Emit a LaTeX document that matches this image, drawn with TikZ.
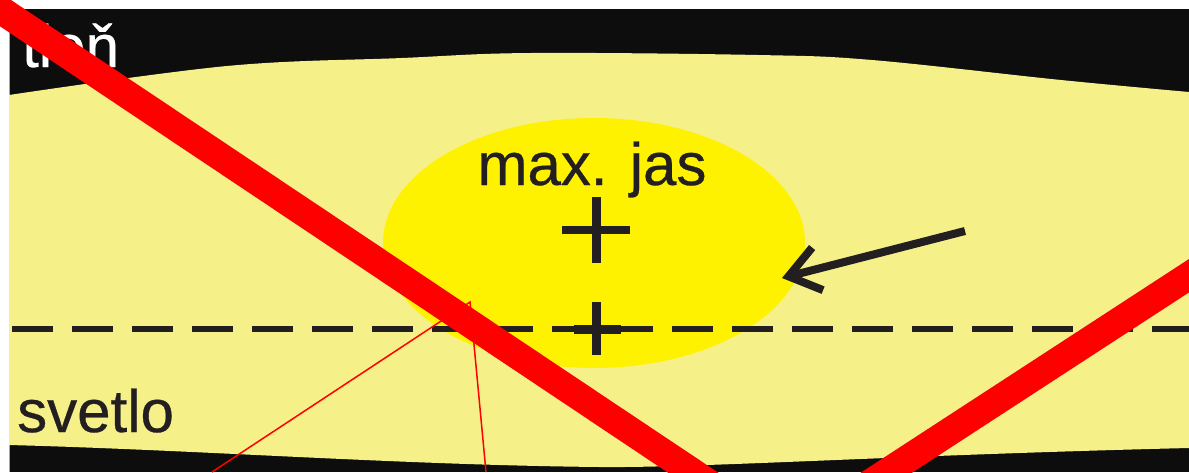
\documentclass[tikz,border=0pt]{standalone}
\usepackage{fontspec}
\setmainfont{Liberation Sans}
\newfontfamily\lblfont[FakeBold=0.5]{Liberation Sans}
\usetikzlibrary{arrows.meta}
\definecolor{paleyel}{RGB}{245,240,135}
\definecolor{brightyel}{RGB}{255,242,0}
\definecolor{nearblack}{RGB}{13,13,13}
\definecolor{inkdark}{RGB}{35,31,32}
\definecolor{crossred}{RGB}{255,0,0}
\tikzset{
  lbl/.style={inner sep=0pt, text=inkdark, font=\lblfont},
  plusbar/.style={draw=inkdark, line width=9pt},
  bigcross/.style={draw=crossred, line width=28pt},
  thinred/.style={draw=crossred, line width=1.5pt},
}
\begin{document}
\begin{tikzpicture}[x=1pt,y=-1pt]
\useasboundingbox (0,0) rectangle (1189,472);
\fill[white] (0,0) rectangle (1189,472);
\begin{scope}
\clip (0,0) rectangle (1189,472);
% black frame
\fill[nearblack] (9,9) rectangle (1189,472);
\draw[gray!70, line width=1pt] (9,9) -- (9,472);
% pale yellow light region
\fill[paleyel] plot[smooth, tension=0.6] coordinates {(9,95) (227,66) (402,58) (531,53) (758,55) (872,60) (1061,80) (1189,92)}
  -- (1189,448) .. controls (900,455) and (700,468) .. (600,467) .. controls (400,465) and (200,450) .. (9,445) -- cycle;
% max brightness ellipse
\fill[brightyel] (594,243) ellipse [x radius=211, y radius=125];
% dashed line
\coordinate (dashL) at (12,329);
\coordinate (dashR) at (1189,329);
\draw[inkdark, line width=5.5pt, dash pattern=on 41pt off 19pt] (dashL) -- (dashR);
% plus signs
\coordinate (p1) at (596,230);
\coordinate (p2) at (596,329);
\draw[plusbar] ([yshift=-33]p1) -- ([yshift=33]p1);
\draw[plusbar, line width=8pt] ([xshift=-34]p1) -- ([xshift=34]p1);
\draw[plusbar] ([yshift=-26]p2) -- ([yshift=27]p2);
\draw[plusbar] ([xshift=-22]p2) -- ([xshift=25]p2);
% labels
\node[lbl, anchor=base] (maxjas) at (592,185) {\fontsize{60}{60}\selectfont max. jas};
\node[lbl, anchor=base west] (svetlo) at (17,432) {\fontsize{60}{60}\selectfont svetlo};
\node[lbl, anchor=base west, text=white] (tien) at (22,67) {\fontsize{60}{60}\selectfont tieň};
% arrow
\coordinate (arrTail) at (965,231);
\coordinate (arrTip) at (782,278);
\draw[inkdark, line width=8pt, -{Straight Barb[length=30pt,width=44pt]}] (arrTail) -- (arrTip);
% thin red lines
\coordinate (tA) at (212,472);
\coordinate (tApex) at (470,302);
\coordinate (tB) at (486,472);
\draw[thinred, line join=miter] (tA) -- (tApex) -- (tB);
% big red cross
\coordinate (c1a) at (-89,-50);
\coordinate (c1b) at (752,512);
\coordinate (c2a) at (826,512);
\coordinate (c2b) at (1250,236);
\draw[bigcross] (c1a) -- (c1b);
\draw[bigcross] (c2a) -- (c2b);
\end{scope}
\end{tikzpicture}
\end{document}
